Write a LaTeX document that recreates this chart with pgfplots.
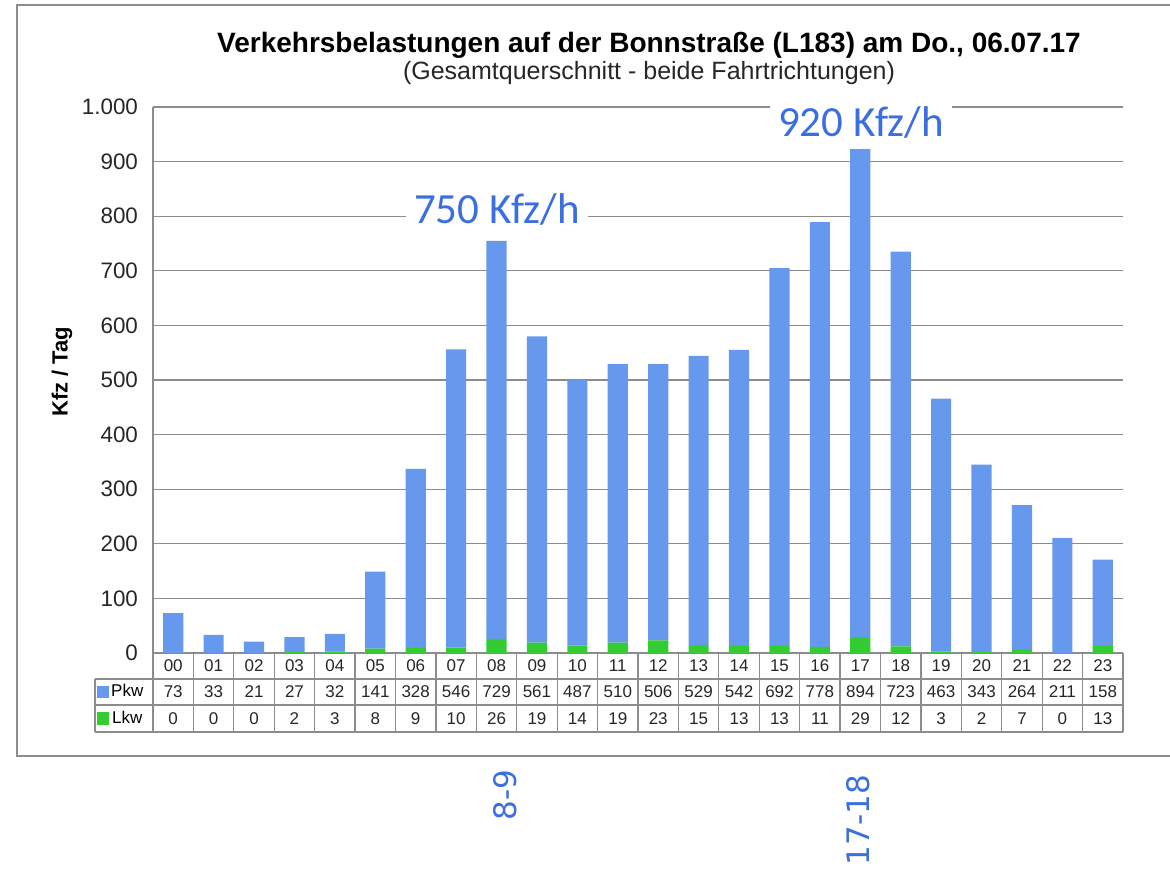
\documentclass[border=0pt]{standalone}
\usepackage{pgfplots}
\pgfplotsset{compat=1.18}
\usepackage{pgfplotstable}
\usepackage{fontspec}
\setmainfont{Liberation Sans}
\newfontfamily\annotfont{Carlito}
\newfontfamily\dvfont{DejaVu Sans}
\definecolor{pkw}{RGB}{102,153,238}
\definecolor{lkw}{RGB}{51,204,51}
\definecolor{anno}{RGB}{59,111,224}
\definecolor{gridc}{RGB}{140,140,140}
\pgfplotsset{sqlegend/.style={legend image code/.code={\fill[##1,draw=none] (0pt,-3.2pt) rectangle (6pt,3.2pt);}}}

\pgfplotstableread{
h lab Pkw Lkw
0 00 73 0
1 01 33 0
2 02 21 0
3 03 27 2
4 04 32 3
5 05 141 8
6 06 328 9
7 07 546 10
8 08 729 26
9 09 561 19
10 10 487 14
11 11 510 19
12 12 506 23
13 13 529 15
14 14 542 13
15 15 692 13
16 16 778 11
17 17 894 29
18 18 723 12
19 19 463 3
20 20 343 2
21 21 264 7
22 22 211 0
23 23 158 13
}\data

\begin{document}
\begin{tikzpicture}
\path[use as bounding box] (0,0) rectangle (585pt,434pt);
\draw[gridc, line width=0.8pt] (8.5pt,56pt) rectangle (600pt,431.5pt);

\begin{axis}[
  at={(76.5pt,107.5pt)}, anchor=south west,
  scale only axis, width=485pt, height=273pt,
  ybar stacked, bar width=0.5,
  xmin=-0.5, xmax=23.5, ymin=0, ymax=1000,
  ytick={0,100,...,1000}, xtick=\empty,
  ymajorgrids, grid style={gridc, line width=0.6pt},
  axis lines*=left, axis line style={-, gridc, line width=0.8pt},
  major tick length=0pt,
  /pgf/number format/1000 sep={.},
  /pgf/number format/assume math mode=true,
  yticklabel style={font=\fontsize{11.2}{13}\selectfont, text=black!85, xshift=-4pt},
  ylabel={Kfz / Tag},
  ylabel style={at={(rel axis cs:-0.0938,0.515)}, anchor=center, font=\bfseries\fontsize{11}{13}\selectfont},
  clip=false,
  reverse legend,
  legend style={at={(axis cs:-1.9,-95.95)}, anchor=west, draw=none, fill=none,
    inner sep=0pt, row sep=5.5pt, font=\fontsize{8.5}{10}\selectfont,
    nodes={inner sep=0pt, text height=6.2pt, text depth=1.6pt},
    /tikz/every odd column/.style={column sep=1.2pt}},
]
\addplot[fill=lkw, draw=none, sqlegend] table[x=h, y=Lkw] {\data};
\addplot[fill=pkw, draw=none, sqlegend] table[x=h, y=Pkw] {\data};
\legend{Lkw, Pkw}
% data table grid
\draw[gridc, line width=0.6pt]
  (axis cs:-1.935,-47.6) -- (axis cs:23.5,-47.6)
  (axis cs:-1.935,-95.2) -- (axis cs:23.5,-95.2)
  (axis cs:-1.935,-144.7) -- (axis cs:23.5,-144.7)
  (axis cs:-1.935,-47.6) -- (axis cs:-1.935,-144.7);
\draw[gridc, line width=0.6pt]
  \foreach \i [evaluate=\i as \xx using \i-0.5] in {0,...,24} { (axis cs:\xx,0) -- (axis cs:\xx,-144.7) };
\end{axis}

\begin{axis}[
  at={(76.5pt,107.5pt)}, anchor=south west,
  scale only axis, width=485pt, height=273pt,
  xmin=-0.5, xmax=23.5, ymin=0, ymax=1000,
  hide axis, clip=false,
  nodes near coords, point meta=explicit symbolic,
  every node near coord/.append style={anchor=center, font=\fontsize{8.5}{10}\selectfont, text=black!85, inner sep=0pt},
]
\addplot[draw=none, mark=none] table[x=h, y expr=-23.8, meta=lab] {\data};
\addplot[draw=none, mark=none] table[x=h, y expr=-71.4, meta=Pkw] {\data};
\addplot[draw=none, mark=none] table[x=h, y expr=-120, meta=Lkw] {\data};
\end{axis}

\node[font=\bfseries\fontsize{14}{16}\selectfont] at (324.5pt,411.5pt) {Verkehrsbelastungen auf der Bonnstraße (L183) am Do., 06.07.17};
\node[font=\fontsize{12.5}{14}\selectfont, text=black!85] at (324.5pt,397.5pt) {(Gesamtquerschnitt - beide Fahrtrichtungen)};

\node[fill=white, inner xsep=4pt, inner ysep=2pt, text=anno, font=\annotfont\fontsize{21.5}{24}\selectfont] at (248.5pt,329.5pt) {750 Kfz/h};
\node[fill=white, inner xsep=4pt, inner ysep=2pt, text=anno, font=\annotfont\fontsize{21.5}{24}\selectfont] at (430.5pt,373pt) {920 Kfz/h};

\node[rotate=90, text=anno, font=\dvfont\fontsize{15.5}{18}\selectfont] at (252.5pt,36.5pt) {8-9};
\node[rotate=90, text=anno, font=\dvfont\fontsize{15.5}{18}\selectfont] at (429pt,24pt) {17-18};
\end{tikzpicture}
\end{document}
